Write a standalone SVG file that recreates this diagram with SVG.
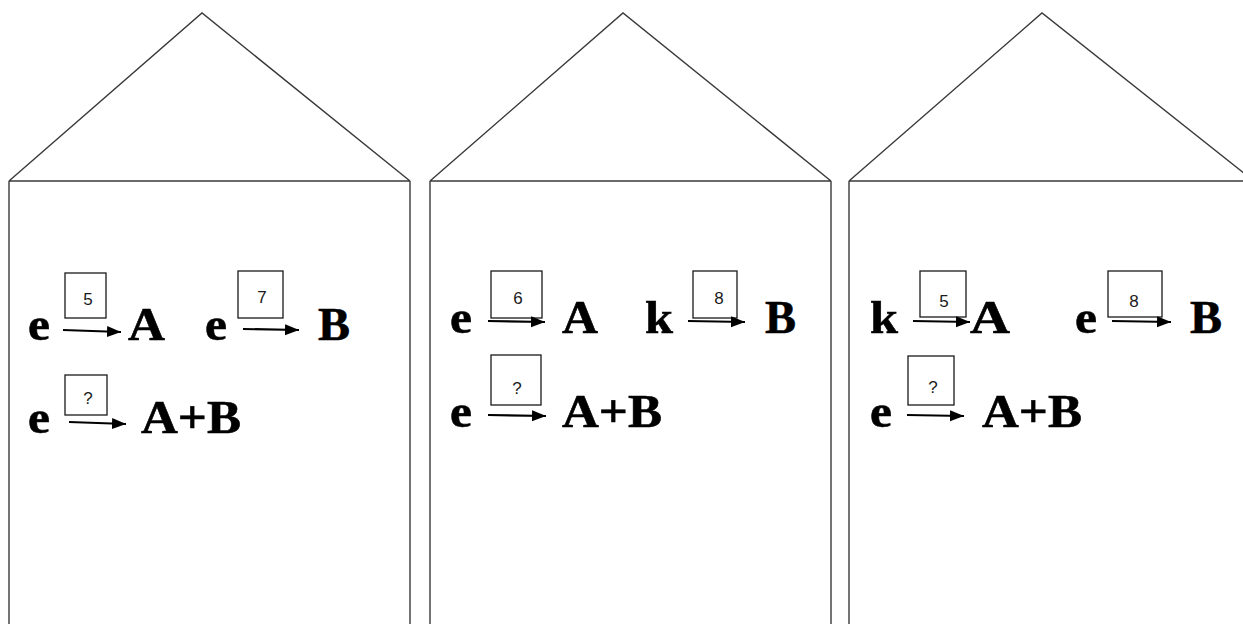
<svg xmlns="http://www.w3.org/2000/svg" width="1243" height="624" viewBox="0 0 1243 624">
<defs>
<style>
.house{fill:none;stroke:#3a3a3a;stroke-width:1.4}
.box{fill:#fff;stroke:#1a1a1a;stroke-width:1.3}
.big{font-family:"Liberation Serif","Times New Roman",serif;font-weight:bold;font-size:47px;fill:#000;stroke:#000;stroke-width:0.6}
.num{font-family:"Liberation Sans",Arial,sans-serif;font-size:17px;fill:#1a1a1a;text-anchor:middle}
.arr{stroke:#000;stroke-width:2.2;fill:none;marker-end:url(#ah)}
</style>
<marker id="ah" markerUnits="userSpaceOnUse" markerWidth="16" markerHeight="12" refX="14" refY="5.5" orient="auto">
<path d="M0,0 L14,5.5 L0,11 Z" fill="#000"/>
</marker>
</defs>
<rect width="1243" height="624" fill="#fff"/>

<g id="house1">
<path class="house" d="M9,181 L202,13 L410,181 M9,181 L410,181 M9,181 L9,630 M410,181 L410,630"/>
<text class="big" x="28" y="340" textLength="22" lengthAdjust="spacingAndGlyphs">e</text>
<rect class="box" x="65" y="273" width="41" height="45"/>
<text class="num" x="88" y="305">5</text>
<text class="big" x="128" y="340" textLength="37" lengthAdjust="spacingAndGlyphs">A</text>
<text class="big" x="205" y="340" textLength="22" lengthAdjust="spacingAndGlyphs">e</text>
<rect class="box" x="238" y="271" width="45" height="47"/>
<text class="num" x="262" y="303">7</text>
<text class="big" x="318" y="340" textLength="32" lengthAdjust="spacingAndGlyphs">B</text>
<text class="big" x="28" y="433" textLength="22" lengthAdjust="spacingAndGlyphs">e</text>
<rect class="box" x="65" y="375" width="42" height="40"/>
<text class="num" x="88" y="404">?</text>
<text class="big" x="141" y="433" textLength="100" lengthAdjust="spacingAndGlyphs">A+B</text>
</g>

<g id="house2">
<path class="house" d="M430,181 L623,13 L831,181 M430,181 L831,181 M430,181 L430,630 M831,181 L831,630"/>
<text class="big" x="450" y="333" textLength="22" lengthAdjust="spacingAndGlyphs">e</text>
<rect class="box" x="491" y="271" width="51" height="47"/>
<text class="num" x="518" y="304">6</text>
<text class="big" x="562" y="333" textLength="36" lengthAdjust="spacingAndGlyphs">A</text>
<text class="big" x="645" y="333" textLength="28" lengthAdjust="spacingAndGlyphs">k</text>
<rect class="box" x="693" y="271" width="44" height="47"/>
<text class="num" x="719" y="304">8</text>
<text class="big" x="765" y="333" textLength="31" lengthAdjust="spacingAndGlyphs">B</text>
<text class="big" x="450" y="427" textLength="22" lengthAdjust="spacingAndGlyphs">e</text>
<rect class="box" x="491" y="355" width="50" height="50"/>
<text class="num" x="517" y="394">?</text>
<text class="big" x="562" y="427" textLength="100" lengthAdjust="spacingAndGlyphs">A+B</text>
</g>

<g id="house3">
<path class="house" d="M849,181 L1042,13 L1250,178 M849,181 L1250,181 M849,181 L849,630"/>
<text class="big" x="870" y="333" textLength="28" lengthAdjust="spacingAndGlyphs">k</text>
<rect class="box" x="920" y="271" width="46" height="46"/>
<text class="num" x="944" y="307">5</text>
<text class="big" x="970" y="333" textLength="40" lengthAdjust="spacingAndGlyphs">A</text>
<text class="big" x="1075" y="333" textLength="22" lengthAdjust="spacingAndGlyphs">e</text>
<rect class="box" x="1108" y="271" width="54" height="46"/>
<text class="num" x="1134" y="307">8</text>
<text class="big" x="1190" y="333" textLength="32" lengthAdjust="spacingAndGlyphs">B</text>
<text class="big" x="870" y="427" textLength="22" lengthAdjust="spacingAndGlyphs">e</text>
<rect class="box" x="908" y="356" width="46" height="49"/>
<text class="num" x="933" y="393">?</text>
<text class="big" x="982" y="427" textLength="100" lengthAdjust="spacingAndGlyphs">A+B</text>
</g>

<g id="connectors">
<line class="arr" x1="63" y1="330" x2="121" y2="332"/>
<line class="arr" x1="243" y1="329" x2="299" y2="330"/>
<line class="arr" x1="69" y1="422" x2="126" y2="424"/>
<line class="arr" x1="488" y1="321" x2="545" y2="322"/>
<line class="arr" x1="688" y1="321" x2="745" y2="322"/>
<line class="arr" x1="488" y1="415" x2="546" y2="416"/>
<line class="arr" x1="913" y1="321" x2="970" y2="322"/>
<line class="arr" x1="1112" y1="321" x2="1171" y2="322"/>
<line class="arr" x1="907" y1="415" x2="964" y2="416"/>
</g>
</svg>
